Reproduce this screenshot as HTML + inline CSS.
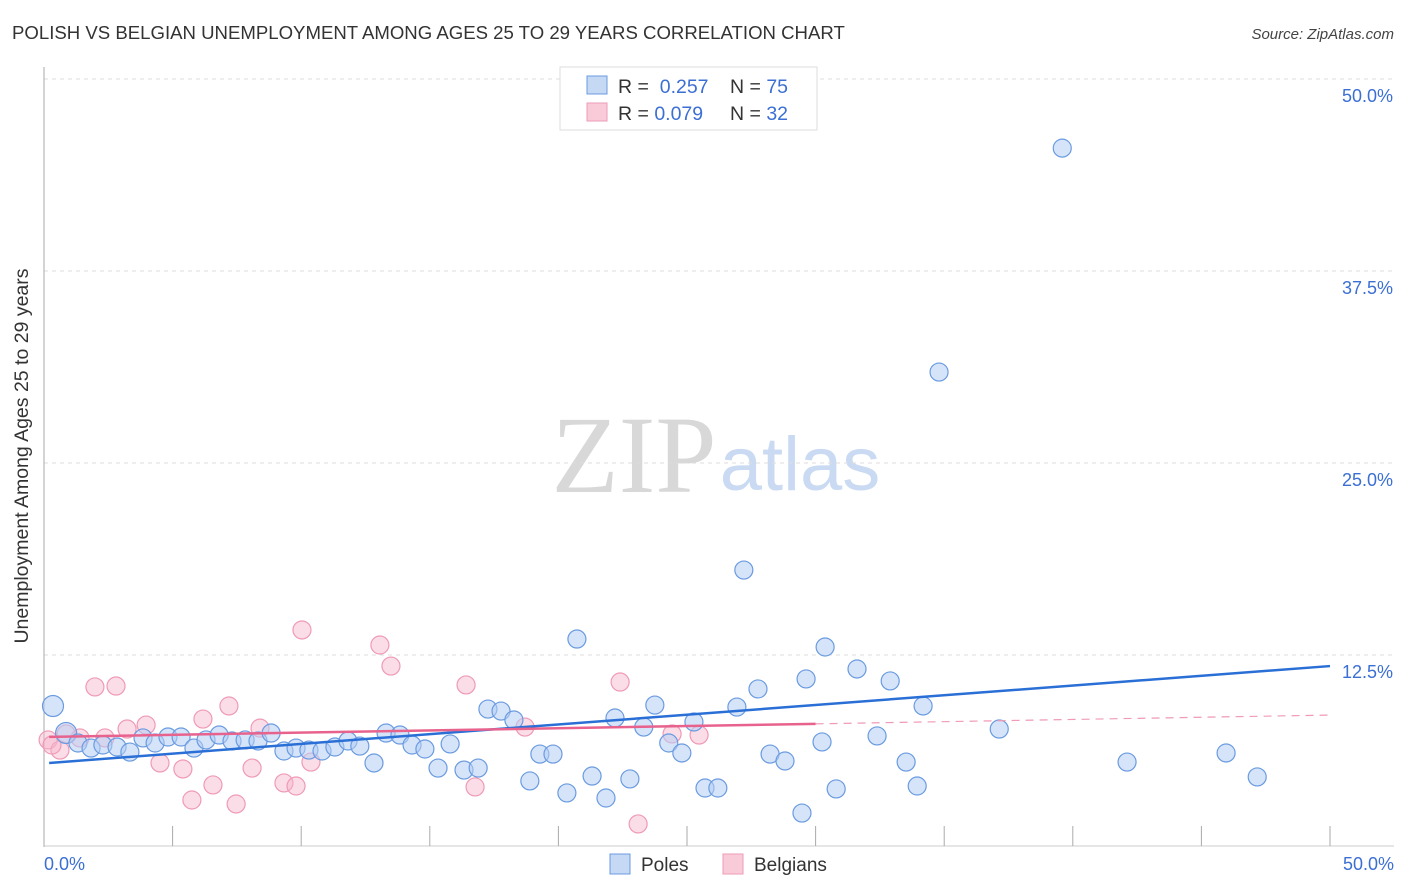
<!DOCTYPE html>
<html><head><meta charset="utf-8"><style>
body{margin:0;background:#fff;font-family:"Liberation Sans",sans-serif;}
#wrap{position:relative;width:1406px;height:892px;overflow:hidden}
</style></head><body>
<div id="wrap">
<svg id="svg" width="1406" height="892" xmlns="http://www.w3.org/2000/svg">
<text x="12" y="39" font-size="18.6" fill="#333">POLISH VS BELGIAN UNEMPLOYMENT AMONG AGES 25 TO 29 YEARS CORRELATION CHART</text>
<text x="1394" y="39" font-size="15" fill="#444" font-style="italic" text-anchor="end">Source: ZipAtlas.com</text>
<text x="634" y="492" font-size="110" fill="#d8d8d8" font-family="Liberation Serif,serif" text-anchor="middle">ZIP</text>
<text x="800" y="490" font-size="76" fill="#c9daf2" text-anchor="middle">atlas</text>
<g id="grid"></g><g id="axes"></g><g id="pts"></g><g id="lines"></g>
<text x="28" y="456" font-size="19.5" fill="#333" text-anchor="middle" transform="rotate(-90 28 456)">Unemployment Among Ages 25 to 29 years</text>
<g>
<rect x="560" y="67" width="257" height="63" fill="#fff" stroke="#ddd"/>
<rect x="587" y="76" width="20" height="18" fill="#c5d9f5" stroke="#6a9be0"/>
<rect x="587" y="103" width="20" height="18" fill="#f9cbd9" stroke="#ee9bb5"/>
<text x="618" y="93" font-size="19.5" fill="#333">R = <tspan fill="#3b6fd4">&#160;0.257</tspan></text>
<text x="730" y="93" font-size="19.5" fill="#333">N = <tspan fill="#3b6fd4">75</tspan></text>
<text x="618" y="120" font-size="19.5" fill="#333">R = <tspan fill="#3b6fd4">0.079</tspan></text>
<text x="730" y="120" font-size="19.5" fill="#333">N = <tspan fill="#3b6fd4">32</tspan></text>
</g>
<g>
<rect x="610" y="854" width="20" height="20" fill="#c5d9f5" stroke="#6a9be0"/>
<text x="641" y="871" font-size="19" fill="#333">Poles</text>
<rect x="723" y="854" width="20" height="20" fill="#f9cbd9" stroke="#ee9bb5"/>
<text x="754" y="871" font-size="19" fill="#333">Belgians</text>
</g>
</svg>
</div>
<script>
const yTicks=[12.5,25.0,37.5,50.0];
const xTicks=[0,5,10,15,20,25,30,35,40,45,50];
const polesX=[0.35,0.86,1.32,1.83,2.29,2.84,3.34,3.85,4.32,4.82,5.33,5.83,6.30,6.81,7.31,7.82,8.32,8.83,9.33,9.80,10.30,10.81,11.31,11.82,12.28,12.83,13.30,13.84,14.31,14.81,15.32,15.79,16.33,16.88,17.26,17.77,18.27,18.89,19.28,19.79,20.33,20.72,21.31,21.85,22.20,22.78,23.32,23.75,24.29,24.80,25.27,25.70,26.20,26.94,27.21,27.76,28.23,28.81,29.47,29.63,30.25,30.37,30.80,31.61,32.39,32.90,33.52,33.95,34.18,34.80,37.14,39.59,42.11,45.96,47.17];
const polesY=[9.18,7.42,6.77,6.44,6.64,6.51,6.18,7.10,6.77,7.16,7.16,6.44,6.97,7.29,6.90,6.97,6.90,7.42,6.25,6.44,6.31,6.25,6.51,6.90,6.57,5.47,7.42,7.29,6.64,6.38,5.14,6.71,5.01,5.14,8.98,8.85,8.27,4.30,6.05,6.05,3.52,13.54,4.62,3.19,8.40,4.43,7.81,9.24,6.77,6.12,8.14,3.84,3.84,9.11,18.03,10.29,6.05,5.60,2.21,10.94,6.84,13.02,3.78,11.59,7.23,10.81,5.53,3.97,9.18,30.92,7.68,45.50,5.53,6.12,4.56];
const belgX=[0.16,0.62,1.40,1.98,2.37,2.80,3.23,3.97,4.51,5.40,5.75,6.18,6.57,7.19,7.47,8.09,8.40,9.33,9.80,10.03,10.38,13.06,13.49,16.41,16.76,18.70,22.40,23.10,24.42,25.47,0.31,0.86];
const belgY=[6.97,6.31,7.10,10.42,7.10,10.48,7.68,7.94,5.47,5.08,3.06,8.33,4.04,9.18,2.80,5.14,7.74,4.17,3.97,14.13,5.53,13.15,11.78,10.55,3.91,7.81,10.74,1.50,7.36,7.29,6.64,7.36];
const polesTrend=[5.47,11.78];
const belgTrend=[7.16,8.59];
const belgSolidEnd=30;
const NS='http://www.w3.org/2000/svg';
const X0=44,X1=1330,YB=847,YT=79;
const sx=v=>X0+(v/50)*(X1-X0);
const sy=v=>YB-(v/50)*(YB-YT);
function mk(tag,attrs,parent){const e=document.createElementNS(NS,tag);for(const k in attrs)e.setAttribute(k,attrs[k]);parent.appendChild(e);return e;}
const grid=document.getElementById('grid'),axes=document.getElementById('axes'),pts=document.getElementById('pts'),lines=document.getElementById('lines');
yTicks.forEach(t=>{
  const l=mk('line',{x1:X0,x2:1394,y1:sy(t),y2:sy(t),stroke:'#ddd','stroke-dasharray':'4,4'},grid);
  
  
  const tx=mk('text',{x:1393,y:sy(t)+23,'font-size':18,fill:'#3b6fd4','text-anchor':'end'},axes);
  tx.textContent=t.toFixed(1)+'%';
  
  
});
const ya=mk('line',{x1:X0,x2:X0,y1:67,y2:847,stroke:'#aaa'},axes);


const xa=mk('line',{x1:X0,x2:1394,y1:846,y2:846,stroke:'#ccc'},axes);


xTicks.forEach(t=>{
  const l=mk('line',{x1:sx(t),x2:sx(t),y1:826,y2:846,stroke:'#aaa'},axes);
  
  
});
[[0,'start',44],[50,'end',1394]].forEach(([v,a,x])=>{
  const tx=mk('text',{x:x,y:870,'font-size':18,fill:'#3b6fd4','text-anchor':a},axes);
  tx.textContent=v.toFixed(1)+'%';
  
  
});
belgX.forEach((v,i)=>{
  const c=mk('circle',{cx:sx(v),cy:sy(belgY[i]),r:9,fill:'rgba(246,180,202,0.45)',stroke:'#ef9ab6','stroke-width':1.2},pts);
  
  
});
polesX.forEach((v,i)=>{
  const r=i<2?10.5:9;
  const c=mk('circle',{cx:sx(v),cy:sy(polesY[i]),r:r,fill:'rgba(180,206,244,0.55)',stroke:'#6a9be0','stroke-width':1.2},pts);
  
  
});
const bl=mk('line',{x1:sx(0.2),y1:sy(polesTrend[0]),x2:sx(50),y2:sy(polesTrend[1]),stroke:'#2a6fd6','stroke-width':2.5},lines);


const pAt=x=>belgTrend[0]+(belgTrend[1]-belgTrend[0])*x/50;
const pl=mk('line',{x1:sx(0.2),y1:sy(pAt(0.2)),x2:sx(belgSolidEnd),y2:sy(pAt(belgSolidEnd)),stroke:'#e8628e','stroke-width':2.5},lines);


const pd=mk('line',{x1:sx(belgSolidEnd),y1:sy(pAt(belgSolidEnd)),x2:sx(50),y2:sy(pAt(50)),stroke:'#ef9ab6','stroke-width':1.2,'stroke-dasharray':'8,6'},lines);


</script>
</body></html>
